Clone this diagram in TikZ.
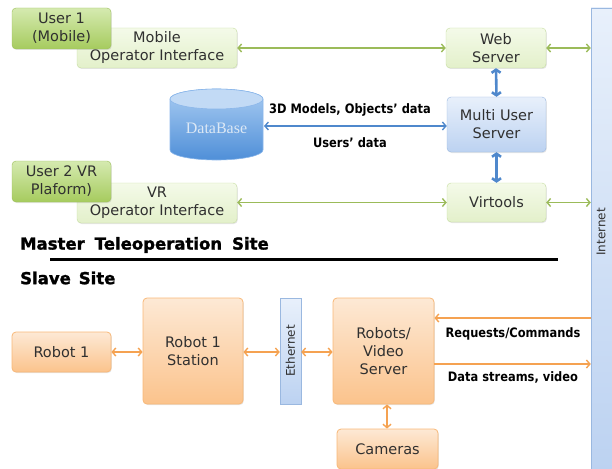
\documentclass[tikz,border=0pt]{standalone}
\usepackage{fontspec}
\setmainfont{DejaVu Sans}
\newfontfamily\lblfont[FakeStretch=0.88]{DejaVu Sans}
\newfontfamily\headfont[BoldFeatures={FakeBold=1.5}]{DejaVu Sans}
\newfontfamily\dbfont{Liberation Serif}
\usetikzlibrary{arrows.meta,shadows}
\definecolor{garrow}{HTML}{9BBB59}
\definecolor{gtop}{HTML}{D5EAB0}
\definecolor{gbot}{HTML}{A6CB5E}
\definecolor{gborder}{HTML}{9CBE5A}
\definecolor{lgtop}{HTML}{F4FAE9}
\definecolor{lgbot}{HTML}{E3F0CA}
\definecolor{lgborder}{HTML}{C5DDA0}
\definecolor{btop}{HTML}{E8F0FB}
\definecolor{bbot}{HTML}{BCD2F1}
\definecolor{bborder}{HTML}{9AB8E0}
\definecolor{barrow}{HTML}{4F88CC}
\definecolor{otop}{HTML}{FDE9D5}
\definecolor{obot}{HTML}{FBC38C}
\definecolor{oborder}{HTML}{F8B878}
\definecolor{oarrow}{HTML}{F5A251}
\definecolor{dbtop}{HTML}{C2DAF5}
\definecolor{dbbodytop}{HTML}{A9CCF2}
\definecolor{dbbodybot}{HTML}{4F8FD8}
\definecolor{dbborder}{HTML}{8AB6EA}
\definecolor{dbtext}{HTML}{DCE8F5}
\definecolor{txt}{HTML}{303030}
\tikzset{
  boxbase/.style={rounded corners=4pt, align=center, text=txt, inner sep=0pt,
    font=\fontsize{14.5}{18}\selectfont,
    drop shadow={shadow xshift=0.8pt, shadow yshift=-1pt, opacity=0.2}},
  userbox/.style={boxbase, draw=gborder, top color=gtop, bottom color=gbot},
  ifbox/.style={boxbase, draw=lgborder, top color=lgtop, bottom color=lgbot},
  bluebox/.style={boxbase, draw=bborder, top color=btop, bottom color=bbot},
  orbox/.style={boxbase, draw=oborder, top color=otop, bottom color=obot, line width=0.8pt},
  barbox/.style={draw=bborder, top color=btop, bottom color=bbot, inner sep=0pt},
  ga/.style={draw=garrow, line width=1.4pt, {Straight Barb[length=3.5pt,width=8pt]}-{Straight Barb[length=3.5pt,width=8pt]}},
  ba/.style={draw=barrow, line width=1.4pt, {Straight Barb[length=3.5pt,width=8pt]}-{Straight Barb[length=3.5pt,width=8pt]}},
  bthick/.style={draw=barrow, line width=2.6pt, {Straight Barb[length=3pt,width=9pt]}-{Straight Barb[length=3pt,width=9pt]}},
  oa/.style={draw=oarrow, line width=1.4pt, {Straight Barb[length=3.5pt,width=8pt]}-{Straight Barb[length=3.5pt,width=8pt]}},
  oone/.style={draw=oarrow, line width=1.4pt, -{Straight Barb[length=3.5pt,width=8pt]}},
  lbl/.style={font=\lblfont\bfseries\fontsize{13}{15}\selectfont, text=black, inner sep=0pt},
  heading/.style={font=\headfont\bfseries\fontsize{16.5}{20}\selectfont, text=black, anchor=west, inner sep=0pt},
  vlabel/.style={rotate=90, font=\fontsize{12}{14}\selectfont, text=txt, inner sep=0pt},
}
\begin{document}
\begin{tikzpicture}[x=1pt,y=1pt]
\useasboundingbox (0,0) rectangle (612,-468);

% Internet bar
\node[barbox, minimum width=23pt, minimum height=464pt] (internet) at (602.5,-240) {};
\node[vlabel] (internetlbl) at (601,-232) {Internet};

% Master site
\node[ifbox, minimum width=160pt, minimum height=40pt] (mobileoi) at (157,-48) {Mobile\\Operator Interface};
\node[userbox, minimum width=99pt, minimum height=41pt] (user1) at (61.5,-28.5) {User 1\\(Mobile)};
\node[ifbox, minimum width=100pt, minimum height=40pt] (websrv) at (496,-48) {Web\\Server};
\node[bluebox, minimum width=99pt, minimum height=55pt] (mus) at (496.5,-124.5) {Multi User\\Server};
\node[ifbox, minimum width=99pt, minimum height=39pt] (virtools) at (496.5,-202.5) {Virtools};
\node[ifbox, minimum width=160pt, minimum height=40pt] (vroi) at (157,-203) {VR\\Operator Interface};
\node[userbox, minimum width=99pt, minimum height=41pt] (user2) at (61.5,-181.5) {User 2 VR\\Plaform)};

% DataBase cylinder
\shade[top color=dbbodytop, bottom color=dbbodybot, draw=dbborder, line width=0.6pt]
  (170,-99) -- (170,-150) arc[start angle=180, end angle=360, x radius=46.5, y radius=10]
  -- (263,-99) arc[start angle=0, end angle=180, x radius=46.5, y radius=10] -- cycle;
\filldraw[fill=dbtop, draw=dbborder, line width=0.6pt] (216.5,-99) ellipse[x radius=46.5, y radius=10];
\node[font=\dbfont\fontsize{16}{18}\selectfont, text=dbtext, inner sep=0pt] (db) at (216.5,-128) {DataBase};
\coordinate (dbright) at (264,-126);

\node[lbl] (lblmodels) at (350,-110) {3D Models, Objects’ data};
\node[lbl] (lblusers) at (350,-143) {Users’ data};

% Master connectors
\draw[ga] (mobileoi.east) -- (websrv.west);
\draw[ga] (websrv.east) -- (websrv.east -| internet.west);
\draw[ga] (vroi.east |- virtools.west) -- (virtools.west);
\draw[ga] (virtools.east) -- (virtools.east -| internet.west);
\draw[bthick] (websrv.south) -- (mus.north);
\draw[bthick] (mus.south) -- (virtools.north);
\draw[ba] (dbright) -- (dbright -| mus.west);

% Headings and separator
\node[heading] (master) at (20,-245) {Master\hspace{10pt}Teleoperation\hspace{10pt}Site};
\coordinate (sepL) at (50,-259);
\coordinate (sepR) at (558,-259);
\draw[line width=3pt] (sepL) -- (sepR);
\node[heading] (slave) at (20,-278) {Slave\hspace{8pt}Site};

% Slave site
\node[orbox, minimum width=99pt, minimum height=40pt] (robot1) at (61.5,-352) {Robot 1};
\node[orbox, minimum width=100pt, minimum height=106pt] (station) at (193,-351) {Robot 1\\Station};
\node[barbox, minimum width=21pt, minimum height=106pt] (ethernet) at (290.5,-351) {};
\node[vlabel] (ethlbl) at (290.5,-351) {Ethernet};
\node[orbox, minimum width=101pt, minimum height=106pt] (rvsrv) at (383.5,-351) {Robots/\\Video\\Server};
\node[orbox, minimum width=101pt, minimum height=40pt] (cameras) at (387.5,-449) {Cameras};

\draw[oa] (robot1.east) -- (robot1.east -| station.west);
\draw[oa] (station.east |- 0,-352) -- (ethernet.west |- 0,-352);
\draw[oa] (ethernet.east |- 0,-352) -- (rvsrv.west |- 0,-352);
\draw[oa] (cameras.north -| 387,0) -- (rvsrv.south -| 387,0);
\draw[oone] (internet.west |- 0,-318) -- (rvsrv.east |- 0,-318);
\draw[oone] (rvsrv.east |- 0,-364) -- (internet.west |- 0,-364);

\node[lbl] (lblreq) at (513,-334) {Requests/Commands};
\node[lbl] (lbldata) at (513,-377) {Data streams, video};
\end{tikzpicture}
\end{document}
